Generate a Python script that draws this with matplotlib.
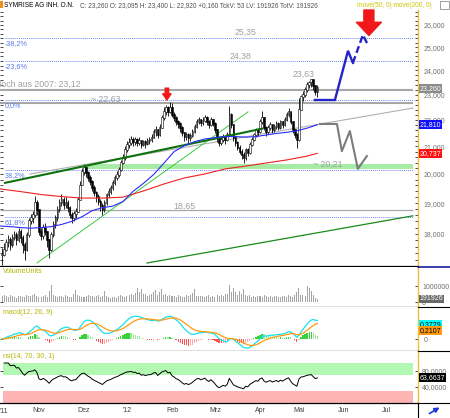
import numpy as np
import pandas as pd
import matplotlib
matplotlib.use('Agg')
import matplotlib.pyplot as plt
import matplotlib.transforms as mtransforms
from matplotlib.lines import Line2D
from matplotlib.patches import Rectangle, FancyArrowPatch
from matplotlib.ticker import FixedLocator, FixedFormatter, NullFormatter

plt.rcParams['font.family'] = ['Liberation Sans', 'DejaVu Sans']

# Xetra trading calendar, Oct 2011 .. Aug 2012 (x axis = trading day index)
days = pd.bdate_range('2011-10-03', '2012-08-10')
holidays = pd.to_datetime(['2011-12-26', '2012-04-06', '2012-04-09', '2012-05-01'])
days = days[~days.isin(holidays)]
first_bar = 3

# daily prices (EUR)
close = [17.34, 17.50, 17.70, 17.80, 17.65, 17.87, 17.96, 17.80, 18.05, 17.87,
         17.65, 17.50, 17.96, 18.40, 18.50, 18.60, 19.00, 18.77, 18.05, 17.93,
         18.20, 18.05, 17.80, 17.50, 17.96, 18.28, 18.50, 18.77, 19.00, 19.10,
         18.94, 19.00, 18.85, 18.61, 18.50, 18.65, 18.70, 19.10, 19.60, 20.07,
         20.20, 20.03, 19.85, 19.72, 19.50, 19.34, 19.20, 19.04, 18.90, 18.77,
         19.00, 19.27, 19.38, 19.50, 19.68, 19.85, 19.96, 20.14, 20.40, 20.57,
         20.86, 21.05, 21.12, 21.23, 21.15, 21.23, 21.12, 21.20, 21.05, 21.15,
         21.08, 21.20, 21.23, 21.30, 21.53, 21.61, 21.42, 21.70, 22.08, 22.30,
         22.47, 22.30, 22.47, 22.19, 22.08, 21.92, 21.84, 21.69, 21.50, 21.34,
         21.42, 21.30, 21.38, 21.53, 21.73, 21.92, 22.00, 21.88, 21.96, 22.08,
         21.92, 21.80, 22.00, 21.84, 21.61, 21.30, 21.12, 21.23, 21.34, 21.23,
         21.42, 22.19, 21.80, 21.30, 21.12, 20.94, 20.79, 20.68, 20.57, 20.86,
         20.75, 21.05, 21.23, 21.42, 21.61, 21.53, 21.92, 22.08, 21.69, 21.53,
         21.69, 21.80, 21.61, 21.73, 21.84, 21.69, 21.92, 21.80, 22.00, 22.19,
         22.30, 21.92, 21.61, 21.42, 21.23, 22.39, 22.90, 22.98, 23.19, 23.39,
         23.50, 23.59, 23.36, 23.10, 23.26]
high = [17.55, 17.70, 17.85, 17.95, 17.90, 18.00, 18.10, 18.05, 18.20, 18.15,
        17.95, 17.75, 18.05, 18.50, 18.65, 18.75, 19.25, 19.10, 18.60, 18.20,
        18.30, 18.35, 18.10, 17.85, 18.05, 18.40, 18.60, 18.90, 19.15, 19.30,
        19.20, 19.20, 19.10, 18.90, 18.70, 18.75, 18.85, 19.20, 19.75, 20.20,
        20.35, 20.30, 20.10, 19.95, 19.80, 19.60, 19.40, 19.30, 19.15, 19.00,
        19.10, 19.35, 19.50, 19.60, 19.80, 19.95, 20.10, 20.25, 20.50, 20.70,
        21.00, 21.20, 21.30, 21.40, 21.35, 21.35, 21.30, 21.35, 21.25, 21.25,
        21.25, 21.30, 21.35, 21.45, 21.65, 21.75, 21.65, 21.85, 22.20, 22.50,
        22.60, 22.55, 22.70, 22.68, 22.30, 22.15, 22.00, 21.90, 21.75, 21.55,
        21.55, 21.50, 21.50, 21.65, 21.85, 22.05, 22.10, 22.05, 22.10, 22.20,
        22.15, 22.00, 22.10, 22.05, 21.90, 21.65, 21.35, 21.35, 21.45, 21.40,
        21.55, 22.55, 22.25, 21.85, 21.40, 21.20, 21.05, 20.90, 20.80, 20.95,
        20.95, 21.15, 21.35, 21.50, 21.70, 21.70, 22.05, 22.35, 22.10, 21.75,
        21.80, 21.90, 21.85, 21.85, 21.95, 21.90, 22.00, 21.95, 22.10, 22.30,
        22.45, 22.30, 21.95, 21.65, 21.50, 22.85, 23.00, 23.15, 23.30, 23.50,
        23.55, 23.63, 23.60, 23.40, 23.40]
low = [17.05, 17.30, 17.45, 17.60, 17.50, 17.60, 17.80, 17.65, 17.75, 17.70,
       17.40, 17.20, 17.45, 17.90, 18.30, 18.35, 18.55, 18.60, 17.95, 17.80,
       17.85, 17.95, 17.60, 17.25, 17.45, 17.90, 18.20, 18.40, 18.70, 18.90,
       18.80, 18.85, 18.70, 18.50, 18.35, 18.40, 18.50, 18.70, 19.10, 19.60,
       19.95, 19.90, 19.75, 19.60, 19.40, 19.25, 19.05, 18.95, 18.75, 18.60,
       18.70, 18.95, 19.20, 19.30, 19.45, 19.60, 19.80, 19.90, 20.10, 20.35,
       20.50, 20.80, 20.95, 21.05, 21.00, 21.05, 21.00, 21.05, 20.95, 21.00,
       20.95, 21.05, 21.10, 21.15, 21.30, 21.40, 21.30, 21.40, 21.70, 22.00,
       22.20, 22.15, 22.25, 22.10, 21.95, 21.80, 21.70, 21.55, 21.40, 21.20,
       21.25, 21.10, 21.20, 21.35, 21.50, 21.70, 21.85, 21.75, 21.80, 21.90,
       21.80, 21.70, 21.75, 21.75, 21.50, 21.15, 21.00, 21.05, 21.15, 21.10,
       21.20, 21.40, 21.70, 21.20, 21.00, 20.85, 20.70, 20.55, 20.40, 20.50,
       20.65, 20.70, 21.00, 21.20, 21.35, 21.40, 21.50, 21.85, 21.60, 21.40,
       21.45, 21.60, 21.50, 21.55, 21.65, 21.60, 21.65, 21.70, 21.75, 21.95,
       22.10, 21.85, 21.50, 21.30, 20.95, 21.20, 22.40, 22.75, 22.90, 23.10,
       23.25, 23.30, 23.20, 23.00, 22.92]
# volume in thousand units
volume_k = [350, 420, 380, 300, 410, 360, 330, 280, 400, 350,
            300, 330, 420, 380, 360, 450, 520, 390, 340, 310,
            380, 420, 300, 700, 1040, 450, 360, 320, 400, 350,
            300, 420, 380, 290, 330, 500, 780, 420, 360, 330,
            300, 380, 450, 350, 400, 320, 380, 420, 310, 350,
            700, 380, 300, 250, 340, 300, 280, 360, 420, 390,
            330, 380, 420, 500, 450, 580, 870, 600, 820, 480,
            520, 360, 420, 500, 640, 780, 420, 600, 800, 450,
            500, 380, 440, 360, 400, 320, 420, 380, 330, 300,
            450, 360, 420, 540, 820, 400, 380, 350, 400, 330,
            360, 420, 300, 380, 330, 450, 380, 420, 360, 480,
            520, 1080, 650, 850, 600, 450, 720, 500, 800, 420,
            380, 450, 340, 400, 320, 380, 350, 300, 420, 360,
            330, 380, 300, 360, 400, 340, 320, 380, 360, 300,
            420, 380, 340, 450, 600, 880, 450, 420, 380, 980,
            900, 700, 420, 280, 192]

# moving averages move(50) and move(200)
ma50_day = list(range(2, 158, 5))
ma50 = [18.25, 18.23, 18.20, 18.18, 18.20, 18.23, 18.30, 18.40, 18.55, 18.75,
        18.85, 18.90, 19.05, 19.40, 19.67, 19.98, 20.38, 20.80, 21.02, 21.17,
        21.27, 21.32, 21.36, 21.36, 21.34, 21.36, 21.42, 21.48, 21.52, 21.58,
        21.68, 21.81]
ma200_day = [2, 12, 22, 32, 42, 52, 62, 72, 82, 92, 102, 112, 122, 132, 142, 152, 157]
ma200 = [19.48, 19.39, 19.29, 19.22, 19.17, 19.17, 19.20, 19.41, 19.65, 19.86,
         20.00, 20.18, 20.28, 20.39, 20.50, 20.64, 20.74]

# drawn trend lines (day index, price)
green_thick = ([4.4, 130.1], [19.69, 21.66])
gray_trend = ([16.6, 203.7], [20.00, 22.46])
green_steep = ([20.0, 123.1], [17.10, 22.31])
green_low = ([73.8, 203.7], [17.10, 18.58])
fib_levels = [25.41, 24.40, 22.78, 20.14, 18.55]
fib_labels = ['-38,2%', '-23,6%', '0,0%', '38,2%', '61,8%']
gray_levels = [23.19, 22.67, 18.77]
zone = (20.17, 20.35)
# forecast paths
blue_path_day = [155.8, 165.6, 172.0, 174.4]
blue_path = [22.78, 22.78, 24.84, 24.32]
blue_dash_day = [174.4, 179.3, 181.7]
blue_dash = [24.32, 25.55, 25.10]
gray_path_day = [158.3, 166.6, 169.0, 172.9, 176.8, 181.2]
gray_path = [21.84, 21.84, 20.82, 21.57, 20.18, 20.64]

price_ticks = [18, 19, 20, 21, 22, 23, 24, 25, 26]
price_labels = ['18,000', '19,000', '20,000', '21,000', '22,000', '23,000', '24,000', '25,000', '26,000']
month_names = ['Nov', 'Dez', "'12", 'Feb', 'Mrz', 'Apr', 'Mai', 'Jun', 'Jul']

W, H = 450, 418
fig = plt.figure(figsize=(4.5, 4.18), dpi=100)
fs = 5.0
axw = 418 / W


def panel(top, bottom):
    return fig.add_axes([0, 1 - bottom / H, axw, (bottom - top) / H])


ax = panel(10, 266)
axv = panel(267, 307)
axm = panel(307, 351)
axr = panel(351, 403)

x = np.arange(first_bar, first_bar + len(close))
c = np.array(close)
o = np.r_[c[0], c[:-1]]
hi = np.maximum(np.array(high), np.maximum(o, c))
lo = np.minimum(np.array(low), np.minimum(o, c))

xmin, xmax = 1.95, 206.2
for a in (ax, axv, axm, axr):
    a.set_xlim(xmin, xmax)
    a.set_xticks([])
    a.spines['left'].set_visible(False)
    a.spines['right'].set_color('#e6c23a')
    a.spines['right'].set_linewidth(1.0)
    a.spines['top'].set_visible(False)
    a.spines['bottom'].set_linewidth(0.9)
    a.tick_params(axis='y', which='both', left=True, right=True, labelleft=False,
                  labelright=True, direction='in', length=2, width=0.5,
                  labelsize=fs, labelcolor='#707070', pad=4)

# ---- price panel
ax.set_yscale('log')
ax.set_ylim(17.01, 26.69)
ax.yaxis.set_major_locator(FixedLocator(price_ticks))
ax.yaxis.set_major_formatter(FixedFormatter(price_labels))
ax.yaxis.set_minor_locator(FixedLocator(np.arange(17.2, 26.7, 0.2)))
ax.yaxis.set_minor_formatter(NullFormatter())

ax.axhspan(zone[0], zone[1], xmin=(44.5 - xmin) / (xmax - xmin), xmax=413 / 418,
           color='#a6eca6', lw=0, zorder=1)
for lv in fib_levels:
    ax.hlines(lv, 4.4, 203.7, colors='#6f86f0', lw=0.7, linestyles=(0, (1, 1)), zorder=2)
for lv, lab in zip(fib_levels, fib_labels):
    ax.annotate(lab, (4.4, lv), xytext=(0, -1.5), textcoords='offset points',
                va='top', ha='left', fontsize=5.2, color='#5a78f0', zorder=3)
ax.hlines(gray_levels[:2], 2, 203.7, colors='#a8a8a8', lw=1.5, zorder=2)
ax.hlines(gray_levels[2], 2, 203.7, colors='#a8a8a8', lw=0.9, zorder=2)

ax.plot(*gray_trend, color='#b0b0b0', lw=0.8, zorder=3)
ax.plot(*green_steep, color='#3cc83c', lw=0.7, zorder=3)
ax.plot(*green_low, color='#1a8a1a', lw=0.9, zorder=3)

ax.vlines(x, lo, hi, color='black', lw=0.6, zorder=4)
up = c >= o
ax.bar(x, np.abs(c - o) + 0.03, bottom=np.minimum(o, c), width=0.75,
       color=np.where(up, 'white', 'black'), edgecolor='black', lw=0.4, zorder=5)

ax.plot(*green_thick, color='#0d720d', lw=1.5, zorder=6)
ax.plot(ma200_day, ma200, color='#f02020', lw=0.8, zorder=6)
ax.plot(ma50_day, ma50, color='#2a2aff', lw=0.8, zorder=6)

ax.plot(blue_path_day, blue_path, color='#2323c8', lw=1.7, zorder=7, solid_joinstyle='miter')
ax.plot(blue_dash_day, blue_dash, color='#2323c8', lw=1.7, ls=(0, (3, 1.5)), zorder=7)
ax.plot(gray_path_day, gray_path, color='#7c7c7c', lw=1.5, zorder=7)

ann = dict(fontsize=6.3, color='#a0a0a0', va='center', zorder=8)
ax.text(116.8, 25.64, '25,35', ha='left', **ann)
ax.text(114.3, 24.62, '24,38', ha='left', **ann)
ax.text(145.1, 23.85, '23,63', ha='left', **ann)
ax.text(41.5, 23.43, 'Hoch aus 2007: 23,12', ha='right', clip_on=True, **ann)
ax.text(46.4, 22.82, '~ 22,63', ha='left', **ann)
ax.text(154.9, 20.36, '~ 20,21', ha='left', **ann)
ax.text(86.5, 18.90, '18,65', ha='left', **ann)

ax.annotate('', xy=(83.5, 22.78), xytext=(83.5, 23.26),
            arrowprops=dict(arrowstyle='simple,head_width=0.6,head_length=0.45,tail_width=0.25',
                            color='#f01818', shrinkA=0, shrinkB=0, mutation_scale=10), zorder=9)
ax.annotate('', xy=(182.2, 25.52), xytext=(182.2, 26.69), annotation_clip=False,
            arrowprops=dict(arrowstyle='simple,head_width=1.8,head_length=0.95,tail_width=0.72',
                            color='#f01818', shrinkA=0, shrinkB=0, mutation_scale=10), zorder=9)


def axis_box(a, y, text, bg, fg):
    tr = mtransforms.blended_transform_factory(a.transAxes, a.transData)
    a.text(1.004, y, text, transform=tr, ha='left', va='center', fontsize=fs, color=fg,
           clip_on=False, zorder=10, bbox=dict(boxstyle='square,pad=0.12', fc=bg, ec='none'))


axis_box(ax, c[-1], '23,260', '#8c8c8c', 'white')
axis_box(ax, ma50[-1], '21,810', '#1010ff', 'white')
axis_box(ax, ma200[-1], '20,737', '#ff1010', 'white')

# ---- volume panel
vol = np.array(volume_k) * 1000
axv.bar(x, vol, width=0.5, color='#a4a4a4', zorder=3)
axv.set_ylim(-0.31e6, 2.19e6)
axv.set_yticks([0, 1e6])
axv.set_yticklabels(['0', '1000000'])
axv.tick_params(axis='y', pad=3)
axv.text(0.008, 0.86, 'VolumeUnits', transform=axv.transAxes, fontsize=fs, color='#b4b400')
axis_box(axv, vol[-1], '191926', '#6a6a6a', 'white')

# ---- macd panel
cs = pd.Series(c)
macd = cs.ewm(span=12, adjust=False).mean() - cs.ewm(span=26, adjust=False).mean()
signal = macd.ewm(span=9, adjust=False).mean()
hist = (macd - signal).values
dh = np.r_[0, np.diff(hist)]
hcol = np.where(hist >= 0, np.where(dh >= 0, '#3ad23a', '#9ae89a'),
                np.where(dh <= 0, '#ff5050', '#ffaaaa'))
axm.bar(x, hist, width=0.6, color=hcol, zorder=2)
axm.plot(x, macd, color='#18e0f0', lw=0.9, zorder=3)
axm.plot(x, signal, color='#ff9a10', lw=0.9, zorder=3)
axm.set_ylim(-0.3, 0.8)
axm.set_yticks([0])
axm.set_yticklabels(['0'])
axm.text(0.008, 0.84, 'macd(12, 26, 9)', transform=axm.transAxes, fontsize=fs, color='#b4b400')
axis_box(axm, 0.3729, '0,3729', '#00ffff', 'black')
axis_box(axm, 0.2107, '0,2107', '#ff9a10', 'black')

# ---- rsi panel
delta = cs.diff()
gain = delta.clip(lower=0).ewm(alpha=1 / 14, adjust=False).mean()
loss = (-delta.clip(upper=0)).ewm(alpha=1 / 14, adjust=False).mean()
rsi = 100 - 100 / (1 + gain / loss)
axr.set_ylim(0, 130)
axr.axhspan(70, 100, xmin=3 / 418, xmax=413 / 418, color='#b2f8b2', lw=0, zorder=1)
axr.axhspan(0, 30, xmin=3 / 418, xmax=413 / 418, color='#ffb4b4', lw=0, zorder=1)
axr.plot(x[1:], rsi[1:], color='black', lw=0.7, zorder=3)
axr.set_yticks([40, 80])
axr.set_yticklabels(['40,0000', '80,0000'])
axr.tick_params(axis='y', pad=3)
axr.text(0.008, 0.86, 'rsi(14, 70, 30, 1)', transform=axr.transAxes, fontsize=fs, color='#b4b400')
axis_box(axr, 63.6637, '63,6637', 'black', 'white')

month_pos = [i for i in range(1, len(days)) if days[i].month != days[i - 1].month][:len(month_names)]
axr.set_xticks(month_pos)
axr.set_xticklabels(month_names)
axr.tick_params(axis='x', length=0, pad=3, labelsize=fs, labelcolor='#404040')
axr.text(0, -0.17, "'11", transform=axr.transAxes, fontsize=fs, color='#404040', va='center')

# ---- frame pieces
for yy in (307, 351, 403):
    fig.add_artist(Line2D([418 / W, 1], [1 - yy / H] * 2, color='black', lw=0.8))
fig.add_artist(Line2D([418 / W, 1], [1 - 266.5 / H] * 2, color='#1a1aa0', lw=1.2))
fig.add_artist(Line2D([418 / W, 418 / W], [0, 1 - 403 / H], color='black', lw=0.8))
fig.add_artist(Rectangle((0, 1 - 8 / H), 3 / W, 7 / H, color='#f09020', lw=0))
fig.add_artist(Rectangle((440 / W, 1 - 9 / H), 9 / W, 8 / H, fc='white', ec='#909090', lw=0.6))
hfs = 4.7
fig.text(4 / W, 1 - 5.5 / H, 'SYMRISE AG INH. O.N.', fontsize=hfs, color='black', va='center')
fig.text(80 / W, 1 - 5.5 / H,
         'C: 23,260 O: 23,095 H: 23,400 L: 22,920 +0,160 TckV: 53 LV: 191926 TotV: 191926',
         fontsize=hfs, color='#505050', va='center')
fig.text(357 / W, 1 - 5.5 / H, 'move(50, 0) move(200, 0)', fontsize=hfs, color='#c8c800', va='center')
fig.add_artist(FancyArrowPatch((427 / W, 1 - 415 / H), (442 / W, 1 - 406 / H),
               transform=fig.transFigure, arrowstyle='-|>', mutation_scale=7, color='#1a3ad0', lw=1.2))

fig.savefig('out.png', dpi=100)
